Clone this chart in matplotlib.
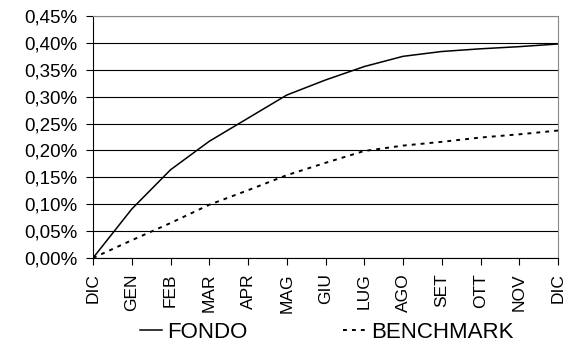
import matplotlib.pyplot as plt
import matplotlib.ticker as plticker
import numpy as np

params = {
    'font.family': ['Liberation Sans', 'DejaVu Sans'],
    'font.size': 15,
    'xtick.labelsize': 12.5,
    'ytick.labelsize': 13.5,
    'legend.fontsize': 16,
}
plt.rcParams.update(params)

months = ["DIC", "GEN", "FEB", "MAR", "APR", "MAG", "GIU",
          "LUG", "AGO", "SET", "OTT", "NOV", "DIC"]
# cumulative returns, in %
fondo = [0.0, 0.091, 0.164, 0.217, 0.260, 0.303, 0.331,
         0.356, 0.375, 0.384, 0.389, 0.393, 0.398]
benchmark = [0.0, 0.033, 0.065, 0.099, 0.126, 0.154, 0.177,
             0.199, 0.209, 0.216, 0.224, 0.230, 0.237]
y_ticks = np.arange(0, 0.451, 0.05)


def pct_fmt(v, pos):
    return ("%.2f%%" % v).replace(".", ",")


fig = plt.figure(figsize=(5.68, 3.47), dpi=100)
ax = fig.add_axes([93 / 568, 89 / 347, 465 / 568, 242 / 347])

x = np.arange(len(months))
ax.plot(x, fondo, color='black', linewidth=1.1, label="FONDO")
ax.plot(x, benchmark, color='black', linewidth=1.4, dashes=(2, 2.6),
        label="BENCHMARK")

ax.set_xlim(0, len(months) - 1)
ax.set_ylim(0, 0.45)
ax.set_yticks(y_ticks)
ax.yaxis.set_major_formatter(plticker.FuncFormatter(pct_fmt))
ax.set_xticks(x)
ax.set_xticklabels(months, rotation=90)

ax.grid(True, axis='y', color='black', linewidth=0.8)
ax.set_axisbelow(True)
ax.tick_params(axis='both', direction='out', length=5, width=0.8, color='black')
ax.tick_params(axis='y', pad=6)
ax.tick_params(axis='x', pad=6)

for side in ['top', 'right']:
    ax.spines[side].set_color('#888888')
    ax.spines[side].set_linewidth(0.8)
for side in ['left', 'bottom']:
    ax.spines[side].set_color('black')
    ax.spines[side].set_linewidth(0.8)

fig.legend(loc='center', bbox_to_anchor=(0.575, 0.042), ncol=2, frameon=False,
           handlelength=1.0, handletextpad=0.25, columnspacing=4.3,
           borderaxespad=0)

fig.savefig("out.png", dpi=100)
